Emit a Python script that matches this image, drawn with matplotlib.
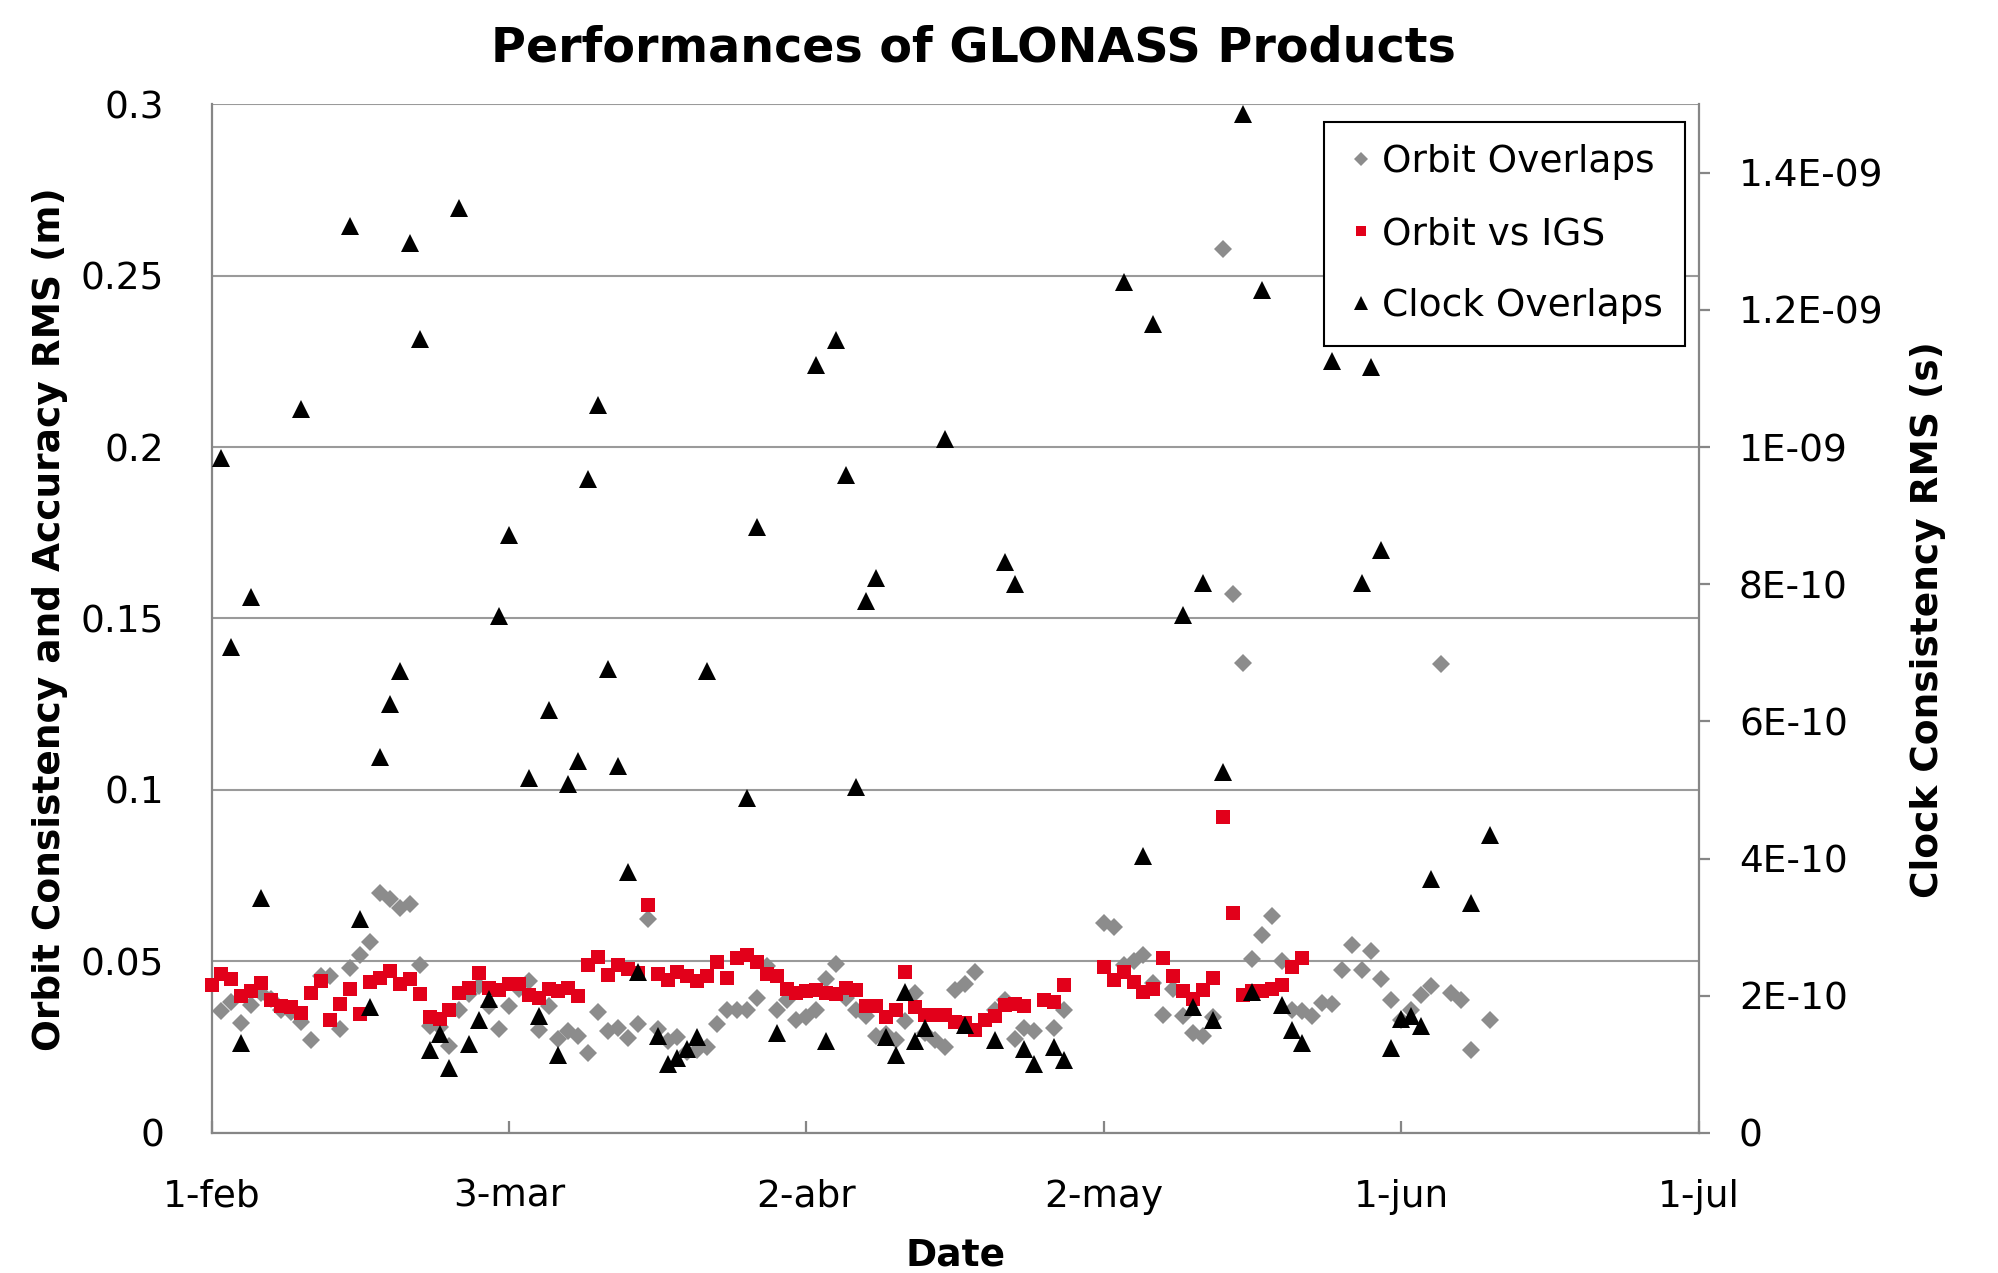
import numpy as np
import matplotlib.pyplot as plt

# x = days counted from 1-feb
tick_days = [0, 30, 60, 90, 120, 150]
tick_names = ['1-feb', '3-mar', '2-abr', '2-may', '1-jun', '1-jul']

left_ticks = [0, 0.05, 0.1, 0.15, 0.2, 0.25, 0.3]
left_names = ['0', '0.05', '0.1', '0.15', '0.2', '0.25', '0.3']
right_ticks = [0, 2e-10, 4e-10, 6e-10, 8e-10, 1e-9, 1.2e-9, 1.4e-9]
right_names = ['0', '2E-10', '4E-10', '6E-10', '8E-10', '1E-09', '1.2E-09', '1.4E-09']

# Orbit Overlaps (m)
overlap_days = list(range(1, 78)) + list(range(79, 84)) + [85, 86] + list(range(90, 128)) + [129]
overlap_rms = [
    0.0355, 0.0381, 0.0321, 0.0374, 0.0408, 0.0390, 0.0360, 0.0352, 0.0323, 0.0272,
    0.0457, 0.0457, 0.0303, 0.0481, 0.0520, 0.0558, 0.0701, 0.0681, 0.0657, 0.0667,
    0.0489, 0.0311, 0.0310, 0.0255, 0.0360, 0.0404, 0.0428, 0.0369, 0.0304, 0.0371,
    0.0420, 0.0444, 0.0299, 0.0371, 0.0274, 0.0296, 0.0282, 0.0233, 0.0353, 0.0296,
    0.0306, 0.0277, 0.0319, 0.0625, 0.0303, 0.0267, 0.0280, 0.0235, 0.0243, 0.0252,
    0.0319, 0.0358, 0.0358, 0.0358, 0.0394, 0.0486, 0.0360, 0.0389, 0.0330, 0.0338,
    0.0360, 0.0449, 0.0493, 0.0394, 0.0360, 0.0340, 0.0282, 0.0290, 0.0272, 0.0326,
    0.0408, 0.0291, 0.0272, 0.0250, 0.0416, 0.0433, 0.0469,
    0.0360, 0.0389, 0.0274, 0.0306, 0.0296,
    0.0306, 0.0358,
    0.0611, 0.0601, 0.0491, 0.0501, 0.0520, 0.0438, 0.0345, 0.0420, 0.0340, 0.0291,
    0.0284, 0.0338, 0.2578, 0.1571, 0.1369, 0.0506, 0.0576, 0.0633, 0.0501, 0.0360,
    0.0357, 0.0342, 0.0379, 0.0377, 0.0474, 0.0548, 0.0474, 0.0530, 0.0450, 0.0387,
    0.0330, 0.0360, 0.0402, 0.0428, 0.1368, 0.0408, 0.0389, 0.0243,
    0.0330,
]

# Orbit vs IGS (m)
igs_days = list(range(0, 83)) + [84, 85, 86] + list(range(90, 111))
igs_rms = [
    0.0431, 0.0464, 0.0450, 0.0399, 0.0413, 0.0436, 0.0389, 0.0371, 0.0366, 0.0350,
    0.0408, 0.0444, 0.0330, 0.0377, 0.0421, 0.0346, 0.0440, 0.0452, 0.0472, 0.0433,
    0.0449, 0.0404, 0.0337, 0.0332, 0.0358, 0.0408, 0.0422, 0.0467, 0.0423, 0.0418,
    0.0435, 0.0433, 0.0401, 0.0394, 0.0420, 0.0413, 0.0423, 0.0399, 0.0491, 0.0513,
    0.0462, 0.0489, 0.0477, 0.0467, 0.0666, 0.0465, 0.0447, 0.0469, 0.0457, 0.0444,
    0.0457, 0.0498, 0.0452, 0.0509, 0.0518, 0.0498, 0.0464, 0.0457, 0.0420, 0.0408,
    0.0413, 0.0418, 0.0408, 0.0404, 0.0423, 0.0416, 0.0369, 0.0371, 0.0338, 0.0360,
    0.0469, 0.0367, 0.0345, 0.0345, 0.0345, 0.0323, 0.0321, 0.0299, 0.0328, 0.0342,
    0.0374, 0.0376, 0.0369,
    0.0389, 0.0381, 0.0431,
    0.0484, 0.0447, 0.0469, 0.0440, 0.0411, 0.0420, 0.0511, 0.0457, 0.0413, 0.0391,
    0.0416, 0.0452, 0.0922, 0.0642, 0.0401, 0.0413, 0.0413, 0.0420, 0.0431, 0.0483,
    0.0511,
]

# Clock Overlaps (units of 1e-10 s)
clock_days = [1, 2, 3, 4, 5, 9, 14, 15, 16, 17, 18, 19, 20, 21, 22, 23, 24, 25, 26, 27,
              28, 29, 30, 32, 33, 34, 35, 36, 37, 38, 39, 40, 41, 42, 43, 45, 46, 47, 48, 49,
              50, 54, 55, 57, 61, 62, 63, 64, 65, 66, 67, 68, 69, 70, 71, 72, 74, 76, 79, 80,
              81, 82, 83, 85, 86, 92, 94, 95, 98, 99, 100, 101, 102, 104, 105, 106, 108, 109, 110, 113,
              116, 117, 118, 119, 120, 121, 122, 123, 127, 129]
clock_rms = [9.84, 7.09, 1.31, 7.82, 3.42, 10.55, 13.22, 3.12, 1.84, 5.48,
             6.26, 6.74, 12.97, 11.57, 1.21, 1.45, 0.95, 13.49, 1.30, 1.65,
             1.96, 7.54, 8.72, 5.17, 1.71, 6.16, 1.13, 5.09, 5.43, 9.53,
             10.61, 6.76, 5.35, 3.81, 2.34, 1.41, 1.00, 1.10, 1.23, 1.40,
             6.73, 4.89, 8.83, 1.46, 11.20, 1.34, 11.56, 9.59, 5.04, 7.76,
             8.09, 1.40, 1.13, 2.06, 1.34, 1.53, 10.12, 1.58, 1.36, 8.33,
             8.01, 1.22, 1.00, 1.26, 1.06, 12.40, 4.04, 11.79, 7.55, 1.83,
             8.02, 1.64, 5.26, 14.86, 2.06, 12.29, 1.87, 1.50, 1.31, 11.25,
             8.02, 11.17, 8.50, 1.24, 1.66, 1.70, 1.56, 3.70, 3.35, 4.34]
clock_s = np.array(clock_rms) * 1e-10

axis_grey = '#868686'

fig = plt.figure(figsize=(19.98, 12.73), dpi=100)
ax = fig.add_axes([0.10586, 0.10998, 0.74429, 0.80832])
ax2 = ax.twinx()

ax.plot(overlap_days, overlap_rms, 'D', color='#8c8c8c', ms=9.5, mew=0, clip_on=False,
        label='Orbit Overlaps', zorder=3)
ax.plot(igs_days, igs_rms, 's', color='#e2001a', ms=10, mew=0, clip_on=False,
        label='Orbit vs IGS', zorder=4)
ax2.plot(clock_days, clock_s, '^', color='black', ms=13.5, mew=0, clip_on=False,
         label='Clock Overlaps', zorder=5)

ax.set_xlim(0, 150)
ax.set_ylim(0, 0.3)
ax2.set_ylim(0, 1.5e-9)

ax.set_xticks(tick_days)
ax.set_xticklabels(tick_names)
ax.set_yticks(left_ticks)
ax.set_yticklabels(left_names)
ax2.set_yticks(right_ticks)
ax2.set_yticklabels(right_names)

ax.yaxis.grid(True, color='#9a9a9a', lw=1.5)
ax.set_axisbelow(True)

for a in (ax, ax2):
    for s in a.spines.values():
        s.set_visible(False)
ax.spines['left'].set_visible(True)
ax.spines['bottom'].set_visible(True)
ax2.spines['right'].set_visible(True)
for s in (ax.spines['left'], ax.spines['bottom'], ax2.spines['right']):
    s.set_color(axis_grey)
    s.set_linewidth(1.6)

ax.tick_params(axis='x', direction='in', length=9, width=1.6, color=axis_grey,
               labelsize=27, pad=33)
ax.tick_params(axis='y', length=0, labelsize=27, pad=34)
ax2.tick_params(axis='y', direction='out', length=8, width=1.6, color=axis_grey,
                labelsize=27, pad=21)

fig.text(0.4872, 0.962, 'Performances of GLONASS Products', ha='center', va='center',
         fontsize=34.3, fontweight='bold')
fig.text(0.025, 0.514, 'Orbit Consistency and Accuracy RMS (m)', ha='center', va='center',
         rotation=90, fontsize=27, fontweight='bold')
fig.text(0.965, 0.513, 'Clock Consistency RMS (s)', ha='center', va='center',
         rotation=90, fontsize=27, fontweight='bold')
fig.text(0.4785, 0.014, 'Date', ha='center', va='center', fontsize=27, fontweight='bold')

h1, l1 = ax.get_legend_handles_labels()
h2, l2 = ax2.get_legend_handles_labels()
leg = ax2.legend(h1 + h2, l1 + l2, loc='upper right', bbox_to_anchor=(1685 / 1998, 1 - 122 / 1273),
                 bbox_transform=fig.transFigure, fontsize=27, numpoints=1,
                 handlelength=0.8, handletextpad=0.15, labelspacing=0.95, borderpad=0.6,
                 borderaxespad=0, fancybox=False, framealpha=1, markerscale=0.72)
leg.get_frame().set_edgecolor('black')
leg.get_frame().set_linewidth(1.5)

fig.savefig('out.png', dpi=100)
